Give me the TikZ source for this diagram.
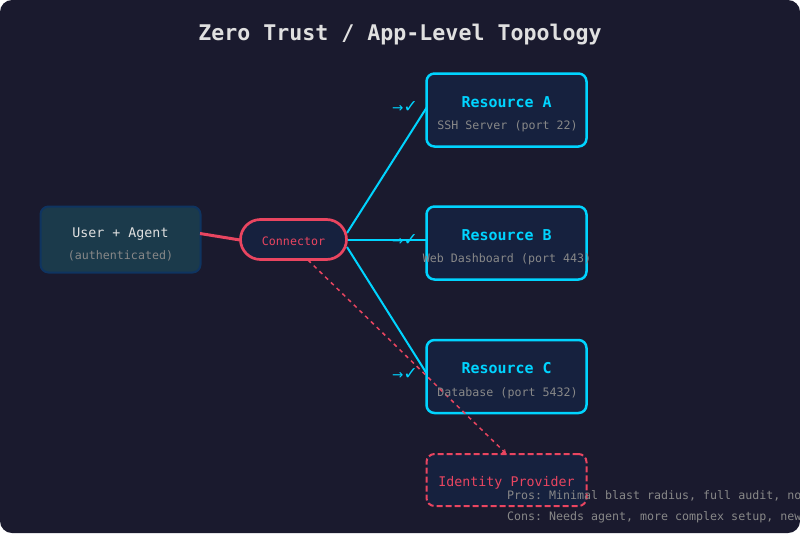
\documentclass[tikz,border=0pt]{standalone}
\usetikzlibrary{arrows.meta}
\usepackage{fontspec}
\setmonofont{DejaVu Sans Mono}
\newfontfamily\symfont{DejaVu Sans}
\definecolor{bgc}{HTML}{1A1A2E}
\definecolor{boxc}{HTML}{16213E}
\definecolor{cyanc}{HTML}{00D4FF}
\definecolor{redc}{HTML}{E94560}
\definecolor{userc}{HTML}{1B3A4B}
\definecolor{userb}{HTML}{0F3460}
\definecolor{greyc}{HTML}{888888}
\definecolor{titlec}{HTML}{E0E0E0}
\newcommand{\markglyphs}{→{\fontsize{17.5}{18}\selectfont ✓}}
\tikzset{
  x=1pt,y=-1pt,
  resbox/.style={draw=cyanc,fill=boxc,line width=2.5pt,rounded corners=8pt,minimum width=160pt,minimum height=73pt,inner sep=0pt},
  userbox/.style={draw=userb,fill=userc,line width=2pt,rounded corners=8pt,minimum width=160pt,minimum height=66pt,inner sep=0pt},
  connbox/.style={draw=redc,fill=boxc,line width=2.7pt,rounded corners=20pt,minimum width=106pt,minimum height=40pt,inner sep=0pt},
  idpbox/.style={draw=redc,fill=boxc,line width=2pt,rounded corners=8pt,dash pattern=on 6pt off 3pt,minimum width=160pt,minimum height=52pt,inner sep=0pt},
  txt/.style={inner sep=0pt,anchor=base},
  title/.style={txt,text=titlec,font=\fontsize{21.6}{24}\ttfamily\bfseries},
  restitle/.style={txt,text=cyanc,font=\fontsize{14.95}{18}\ttfamily\bfseries},
  sub/.style={txt,text=greyc,font=\fontsize{11.63}{14}\ttfamily},
  usertxt/.style={txt,text=titlec,font=\fontsize{13.29}{16}\ttfamily},
  redtxt/.style={txt,text=redc,font=\fontsize{13.29}{16}\ttfamily},
  conntxt/.style={txt,text=redc,font=\fontsize{11.63}{14}\ttfamily},
  notetxt/.style={txt,anchor=base west,text=greyc,font=\fontsize{11.63}{14}\ttfamily},
  marktxt/.style={txt,text=cyanc,font=\fontsize{13.5}{16}\symfont},
  cyanline/.style={draw=cyanc,line width=2pt},
  redline/.style={draw=redc,line width=3pt},
  authline/.style={draw=redc,line width=1.5pt,dash pattern=on 4pt off 4pt,-{Straight Barb[length=3pt,width=4pt,line width=1pt]}},
}
\begin{document}
\begin{tikzpicture}
\useasboundingbox (0,0) rectangle (800,533);
\clip (0,0) rectangle (800,533);
\fill[white] (0,0) rectangle (800,533);
\fill[bgc,rounded corners=12pt] (0,0) rectangle (800,533);
\node[title] (ttl) at (400,40.5) {Zero Trust / App-Level Topology};
% anchors
\coordinate (ca) at (347,233);
\coordinate (cb) at (347,240);
\coordinate (cc) at (347,247);
\coordinate (ra) at (427,107);
\coordinate (rb) at (427,240);
\coordinate (rc) at (427,374);
\coordinate (ul) at (200,233.5);
\coordinate (cl) at (240,240);
\coordinate (cd) at (308,260);
\coordinate (ip) at (506,453.5);
\draw[cyanline] (ca) -- (ra);
\draw[cyanline] (cb) -- (rb);
\draw[cyanline] (cc) -- (rc);
\node[userbox] (user) at (120.5,239.5) {};
\draw[redline] (ul) -- (cl);
\node[connbox] (conn) at (293.5,239.5) {};
\node[resbox] (a) at (506.5,110) {};
\node[resbox] (b) at (506.5,243) {};
\node[resbox] (c) at (506.5,376.5) {};
\node[idpbox] (idp) at (506.5,480) {};
\draw[authline] (cd) -- (ip);
\node[usertxt] (t1) at (120.5,237) {User + Agent};
\node[sub] (t2) at (120.5,259.5) {(authenticated)};
\node[conntxt] (t3) at (293.5,245) {Connector};
\node[restitle] (t4) at (506.5,107) {Resource A};
\node[sub] (t5) at (507.5,129) {SSH Server (port 22)};
\node[restitle] (t6) at (506.5,240) {Resource B};
\node[sub] (t7) at (507,262) {Web Dashboard (port 443)};
\node[restitle] (t8) at (506.5,373.5) {Resource C};
\node[sub] (t9) at (507.5,396) {Database (port 5432)};
\node[redtxt] (t10) at (506.5,486) {Identity Provider};
\node[marktxt] (m1) at (405,112.5) {\markglyphs};
\node[marktxt] (m2) at (405,245.5) {\markglyphs};
\node[marktxt] (m3) at (405,379.5) {\markglyphs};
\node[notetxt] (n1) at (507,499) {Pros: Minimal blast radius, full audit, no};
\node[notetxt] (n2) at (507,520) {Cons: Needs agent, more complex setup, new};
\end{tikzpicture}
\end{document}
